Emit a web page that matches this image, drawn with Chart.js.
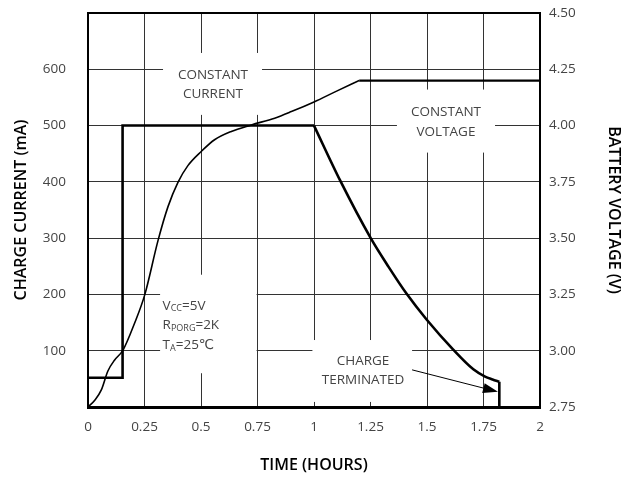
<!DOCTYPE html>
<html><head><meta charset="utf-8">
<script src="https://cdn.jsdelivr.net/npm/chart.js@4.4.1/dist/chart.umd.min.js"></script>
<style>html,body{margin:0;padding:0;background:#fff;overflow:hidden}</style>
</head><body>
<canvas id="c" width="622" height="477"></canvas>
<script>
// ---- data ----
const xTicks = [0, 0.25, 0.5, 0.75, 1, 1.25, 1.5, 1.75, 2];
const xTickLabels = ['0', '0.25', '0.5', '0.75', '1', '1.25', '1.5', '1.75', '2'];
const currentTickLabels = ['', '100', '200', '300', '400', '500', '600', ''];
const voltageTickLabels = ['2.75', '3.00', '3.25', '3.50', '3.75', '4.00', '4.25', '4.50'];

// charge current (mA) – step section
const stepTime = [0, 0.153, 0.153, 1.0];
const stepCurrent = [52, 52, 500, 500];
// charge current (mA) – taper section
const fallTime = [1.0, 1.115, 1.251, 1.33, 1.41, 1.499, 1.616, 1.705, 1.757, 1.79, 1.82];
const fallCurrent = [500, 403, 300, 249, 201, 155, 102, 67, 54, 49, 45];
// charge current (mA) – termination
const endTime = [1.82, 1.82];
const endCurrent = [45, 0];

// battery voltage (V) – rising section
const voltRampTime = [0, 0.03, 0.059, 0.088, 0.118, 0.155, 0.206, 0.251, 0.31, 0.354, 0.398, 0.442, 0.501, 0.56, 0.634, 0.723, 0.826, 0.9, 1.0, 1.1, 1.2];
const voltRampValue = [2.75, 2.78, 2.826, 2.91, 2.959, 3.003, 3.122, 3.248, 3.49, 3.64, 3.748, 3.822, 3.885, 3.937, 3.974, 4.003, 4.033, 4.062, 4.105, 4.153, 4.2];
// battery voltage (V) – regulated section
const voltHoldTime = [1.2, 2.0];
const voltHoldValue = [4.2, 4.2];

const pts = (xs, ys) => xs.map((v, i) => ({x: v, y: ys[i]}));

// ---- annotation placement (data units: hours, mA) ----
const noteBoxes = [
  {t0: 0.332, t1: 0.770, top: 629, bottom: 519},
  {t0: 1.367, t1: 1.801, top: 564, bottom: 452},
  {t0: 0.319, t1: 0.746, top: 235, bottom: 60},
  {t0: 0.993, t1: 1.434, top: 119, bottom: 9}
];
const noteTexts = [
  {t: 0.553, m: 590, text: 'CONSTANT'},
  {t: 0.553, m: 556, text: 'CURRENT'},
  {t: 1.584, m: 523, text: 'CONSTANT'},
  {t: 1.584, m: 488, text: 'VOLTAGE'},
  {t: 1.217, m: 82, text: 'CHARGE'},
  {t: 1.217, m: 48, text: 'TERMINATED'}
];
const condTexts = [
  {t: 0.330, m: 180, main: 'V', sub: 'CC', rest: '=5V'},
  {t: 0.330, m: 145.5, main: 'R', sub: 'PORG', rest: '=2K'},
  {t: 0.330, m: 110, main: 'T', sub: 'A', rest: '=25\u2103'}
];
const arrow = {t0: 1.434, m0: 66, t1: 1.814, m1: 27};

const FONT = '"Open Sans", "DejaVu Sans", sans-serif';
const TEXT_GREY = '#444';

const notesPlugin = {
  id: 'notes',
  beforeDatasetsDraw(chart) {
    const {ctx, scales: {x, y}} = chart;
    ctx.save();
    ctx.fillStyle = '#fff';
    for (const b of noteBoxes) {
      const x0 = x.getPixelForValue(b.t0), x1 = x.getPixelForValue(b.t1);
      const y0 = y.getPixelForValue(b.top), y1 = y.getPixelForValue(b.bottom);
      ctx.fillRect(x0, y0, x1 - x0, y1 - y0);
    }
    ctx.fillStyle = TEXT_GREY;
    ctx.font = '13.5px ' + FONT;
    ctx.textAlign = 'center';
    ctx.textBaseline = 'middle';
    for (const n of noteTexts) {
      ctx.fillText(n.text, x.getPixelForValue(n.t), y.getPixelForValue(n.m));
    }
    ctx.textAlign = 'left';
    for (const c of condTexts) {
      let px = x.getPixelForValue(c.t);
      const py = y.getPixelForValue(c.m);
      ctx.font = '13.5px ' + FONT;
      ctx.fillText(c.main, px, py);
      px += ctx.measureText(c.main).width;
      ctx.font = '9px ' + FONT;
      ctx.fillText(c.sub, px, py + 3);
      px += ctx.measureText(c.sub).width;
      ctx.font = '13.5px ' + FONT;
      ctx.fillText(c.rest, px, py);
    }
    ctx.restore();
  },
  afterDatasetsDraw(chart) {
    const {ctx, scales: {x, y}} = chart;
    const x0 = x.getPixelForValue(arrow.t0), y0 = y.getPixelForValue(arrow.m0);
    const x1 = x.getPixelForValue(arrow.t1), y1 = y.getPixelForValue(arrow.m1);
    const ang = Math.atan2(y1 - y0, x1 - x0);
    const L = 15, W = 5;
    ctx.save();
    ctx.strokeStyle = '#000';
    ctx.lineWidth = 1;
    ctx.beginPath();
    ctx.moveTo(x0, y0);
    ctx.lineTo(x1 - L * Math.cos(ang), y1 - L * Math.sin(ang));
    ctx.stroke();
    ctx.fillStyle = '#000';
    ctx.beginPath();
    ctx.moveTo(x1, y1);
    ctx.lineTo(x1 - L * Math.cos(ang) + W * Math.sin(ang), y1 - L * Math.sin(ang) - W * Math.cos(ang));
    ctx.lineTo(x1 - L * Math.cos(ang) - W * Math.sin(ang), y1 - L * Math.sin(ang) + W * Math.cos(ang));
    ctx.closePath();
    ctx.fill();
    ctx.restore();
  }
};

const tickFont = {family: FONT, size: 13.5};
const titleFont = {family: FONT, size: 16, weight: '600', lineHeight: 1};
const noPad = s => { s.paddingTop = 0; s.paddingBottom = 0; s.paddingLeft = 0; s.paddingRight = 0; };
const lineStyle = {borderColor: '#000', pointRadius: 0, fill: false};

new Chart(document.getElementById('c'), {
  type: 'line',
  data: {
    datasets: [
      {...lineStyle, data: pts(stepTime, stepCurrent), yAxisID: 'y', borderWidth: 2.6, tension: 0},
      {...lineStyle, data: pts(fallTime, fallCurrent), yAxisID: 'y', borderWidth: 2.6, cubicInterpolationMode: 'monotone'},
      {...lineStyle, data: pts(endTime, endCurrent), yAxisID: 'y', borderWidth: 2.6, tension: 0},
      {...lineStyle, data: pts(voltRampTime, voltRampValue), yAxisID: 'y2', borderWidth: 1.6, cubicInterpolationMode: 'monotone'},
      {...lineStyle, data: pts(voltHoldTime, voltHoldValue), yAxisID: 'y2', borderWidth: 2.2, tension: 0}
    ]
  },
  options: {
    responsive: false,
    animation: false,
    devicePixelRatio: 1,
    layout: {padding: 0},
    plugins: {legend: {display: false}, tooltip: {enabled: false}},
    scales: {
      x: {
        type: 'linear', position: 'bottom', min: 0, max: 2,
        afterBuildTicks: s => { s.ticks = xTicks.map(v => ({value: v})); },
        ticks: {callback: (v, i) => xTickLabels[i], font: tickFont, color: TEXT_GREY, padding: 12, maxRotation: 0, autoSkip: false},
        grid: {color: '#333', lineWidth: 1, drawTicks: false},
        border: {display: true, color: '#000', width: 3},
        title: {display: true, text: 'TIME (HOURS)', font: titleFont, color: '#000', padding: {top: 0, bottom: 4}},
        afterFit: s => { noPad(s); s.height = 70; }
      },
      xTop: {
        type: 'linear', position: 'top', min: 0, max: 2,
        ticks: {display: false},
        grid: {display: false, drawTicks: false},
        border: {display: true, color: '#000', width: 2},
        afterFit: s => { noPad(s); s.height = 13; }
      },
      y: {
        type: 'linear', position: 'left', min: 0, max: 700,
        ticks: {stepSize: 100, callback: (v, i) => currentTickLabels[i], font: tickFont, color: TEXT_GREY, padding: 22},
        grid: {color: '#333', lineWidth: 1, drawTicks: false},
        border: {display: true, color: '#000', width: 2},
        title: {display: true, text: 'CHARGE CURRENT (mA)', font: titleFont, color: '#000', padding: {top: 13, bottom: 0}},
        afterFit: s => { noPad(s); s.width = 88; }
      },
      y2: {
        type: 'linear', position: 'right', min: 2.75, max: 4.5,
        ticks: {stepSize: 0.25, callback: (v, i) => voltageTickLabels[i], font: tickFont, color: TEXT_GREY, padding: 9},
        grid: {display: false, drawTicks: false},
        border: {display: true, color: '#000', width: 2},
        title: {display: true, text: 'BATTERY VOLTAGE (V)', font: titleFont, color: '#000', padding: {top: 0, bottom: 0}},
        afterFit: s => { noPad(s); s.width = 82; }
      }
    }
  },
  plugins: [notesPlugin]
});
</script>
</body></html>
